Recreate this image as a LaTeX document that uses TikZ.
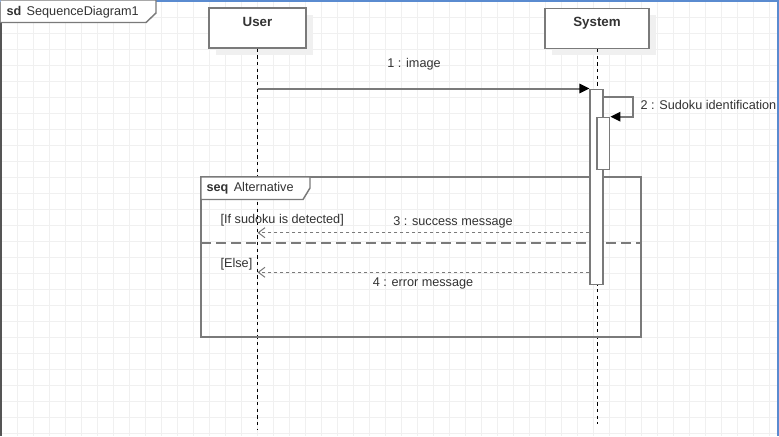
\documentclass[tikz,border=0pt]{standalone}
\usepackage{fontspec}
\setmainfont{Liberation Sans}
\usetikzlibrary{arrows.meta,shadows}

\definecolor{gridgray}{HTML}{F0F0F0}
\definecolor{linegray}{HTML}{7A7A7A}
\definecolor{textgray}{HTML}{333333}
\definecolor{shadowgray}{HTML}{F0F0F0}
\definecolor{selblue}{HTML}{5A8BD0}

\tikzset{
    gridline/.style={gridgray, line width=0.75pt},
    head/.style={draw=linegray, fill=white, line width=1.1pt, inner xsep=0pt, inner ysep=0pt,
        minimum height=30pt, text height=14pt, text depth=16pt,
        font=\bfseries\fontsize{10}{12}\selectfont, text=textgray,
        general shadow={fill=shadowgray, shadow xshift=5.25pt, shadow yshift=-5.25pt}},
    life/.style={black, line width=0.75pt, dash pattern=on 2.5pt off 2.5pt},
    bar/.style={draw=linegray, fill=white, line width=1.1pt, inner sep=0pt, minimum width=9.5pt},
    msg/.style={linegray, line width=1.5pt, -{Triangle[length=7.5pt,width=7pt,fill=black,color=black]}},
    reply/.style={linegray, line width=1.1pt, dash pattern=on 2.25pt off 2.25pt,
        -{Straight Barb[length=5pt,width=7.5pt,line width=0.75pt]}},
    frame/.style={draw=linegray, line width=1.1pt},
    lbl/.style={font=\fontsize{9.5}{11}\selectfont, text=textgray, inner sep=1pt}
}

\begin{document}
\begin{tikzpicture}[x=0.75pt, y=-0.75pt]
    \useasboundingbox (0,0) rectangle (779,436);

    % Grid
    \fill[white] (0,0) rectangle (779,436);
    \foreach \x in {1,17,...,779}
        \draw[gridline] (\x,0) -- (\x,436);
    \foreach \y in {1,17,...,436}
        \draw[gridline] (0,\y) -- (779,\y);

    % Diagram frame
    \draw[linegray!70!black, line width=1.5pt] (0.75,0) -- (0.75,436);
    \draw[selblue, line width=1.5pt] (0,0.75) -- (779,0.75);
    \draw[selblue, line width=1.5pt] (778.25,0) -- (778.25,436);
    \draw[frame, fill=white] (0.75,0) -- (156,0) -- (156,13) -- (146,22.5) -- (0.75,22.5);
    \node[lbl, anchor=west] (sdname) at (5,12.5) {\textbf{sd}\hspace{4pt}SequenceDiagram1};

    % Lifelines
    \node[head, minimum width=72.5pt] (user) at (257.5,28) {User};
    \node[head, minimum width=78pt] (system) at (597,28.3) {System};
    \coordinate (userEnd) at (257.5,429);
    \coordinate (systemEnd) at (597,424);
    \draw[life] (user.south) -- (userEnd);
    \draw[life] (system.south) -- (systemEnd);

    % Alternative fragment
    \coordinate (altNW) at (201,177);
    \coordinate (altSE) at (641,337);
    \draw[frame] (altNW) rectangle (altSE);
    \draw[frame, fill=white] (altNW) -- (310,177) -- (310,188) -- (303,199.5) -- (201,199.5) -- cycle;
    \node[lbl, anchor=west] (altname) at (205,188) {\textbf{seq}\hspace{4pt}Alternative};
    \draw[linegray, line width=1.5pt, dash pattern=on 7.5pt off 3.75pt] (201,242.5) -- (641,242.5);
    \node[lbl, anchor=west] (guard1) at (219,220.5) {[If sudoku is detected]};
    \node[lbl, anchor=west] (guard2) at (219,264) {[Else]};

    % Activations
    \node[bar, minimum height=146.5pt, anchor=north] (act1) at (596.5,88.5) {};
    \node[bar, minimum height=39pt, anchor=north] (act2) at (603.3,116.7) {};

    % Messages
    \coordinate (m1) at (user.south |- act1.north west);
    \draw[msg] (m1) -- (act1.north west);
    \node[lbl] (m1lbl) at (414,64) {1 : image};

    \coordinate (selfA) at (act1.east |- 0,96.7);
    \coordinate (selfB) at (633,96.7);
    \coordinate (selfC) at (633,116.7);
    \draw[msg] (selfA) -- (selfB) -- (selfC) -- (act2.north east);
    \node[lbl, anchor=west] (m2lbl) at (639,105) {2 : Sudoku identification};

    \coordinate (r3) at (act1.west |- 0,232.7);
    \draw[reply] (r3) -- (user.south |- r3);
    \node[lbl] (m3lbl) at (453,222) {3 : success message};

    \coordinate (r4) at (act1.west |- 0,272.3);
    \draw[reply] (r4) -- (user.south |- r4);
    \node[lbl] (m4lbl) at (423,283) {4 : error message};

\end{tikzpicture}
\end{document}
